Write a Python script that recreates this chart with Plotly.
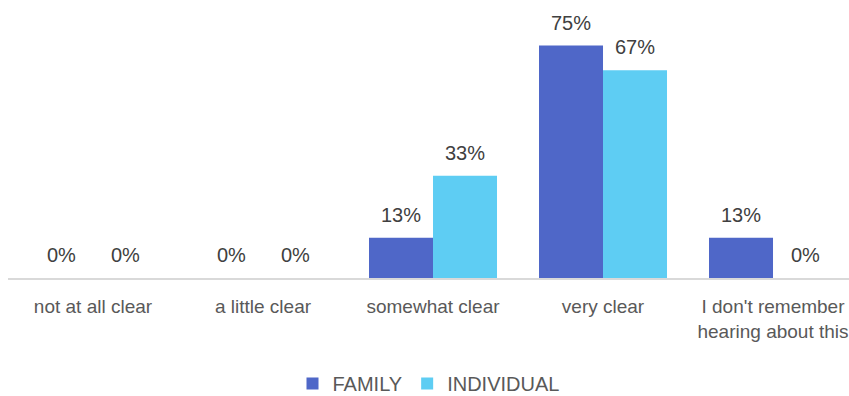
import plotly.graph_objects as go

categories = ["not at all clear", "a little clear", "somewhat clear", "very clear",
              "I don't remember<br>hearing about this"]
family = [0, 0, 13, 75, 13]
individual = [0, 0, 33, 67, 0]

FAMILY_COLOR = "#4F67C8"
INDIVIDUAL_COLOR = "#5ECDF3"
FONT = "Liberation Sans, Arial, sans-serif"

fig = go.Figure()
fig.add_trace(go.Bar(name="FAMILY", x=categories, y=family, marker_color=FAMILY_COLOR,
                     marker_line_width=0))
fig.add_trace(go.Bar(name="INDIVIDUAL", x=categories, y=individual, marker_color=INDIVIDUAL_COLOR,
                     marker_line_width=0))

# value labels above each bar, shifted onto the left/right bar of each group
for series, shift in ((family, -32), (individual, 32)):
    for cat, val in zip(categories, series):
        fig.add_annotation(x=cat, y=val, text=f"{val}%", showarrow=False,
                           xshift=shift, yshift=10, yanchor="bottom",
                           font=dict(family=FONT, size=20, color="#404040"))

fig.update_layout(
    width=849, height=396,
    margin=dict(l=8, r=0, t=30, b=118, autoexpand=False),
    paper_bgcolor="white", plot_bgcolor="white",
    barmode="group", bargap=0.247, bargroupgap=0,
    showlegend=True,
    legend=dict(orientation="h", x=0.5, xanchor="center", y=-0.425, yanchor="middle",
                font=dict(family=FONT, size=20, color="#595959"),
                itemwidth=30, traceorder="normal"),
    font=dict(family=FONT, color="#595959"),
)
fig.update_xaxes(range=[-0.5, 4.447], showline=True, linecolor="#D9D9D9", linewidth=2,
                 ticks="", ticklabelstandoff=10, automargin=False,
                 tickfont=dict(family=FONT, size=19, color="#595959"),
                 showgrid=False, zeroline=False)
fig.update_yaxes(range=[0, 80], visible=False, showgrid=False, zeroline=False)

fig.write_html("out.html")
